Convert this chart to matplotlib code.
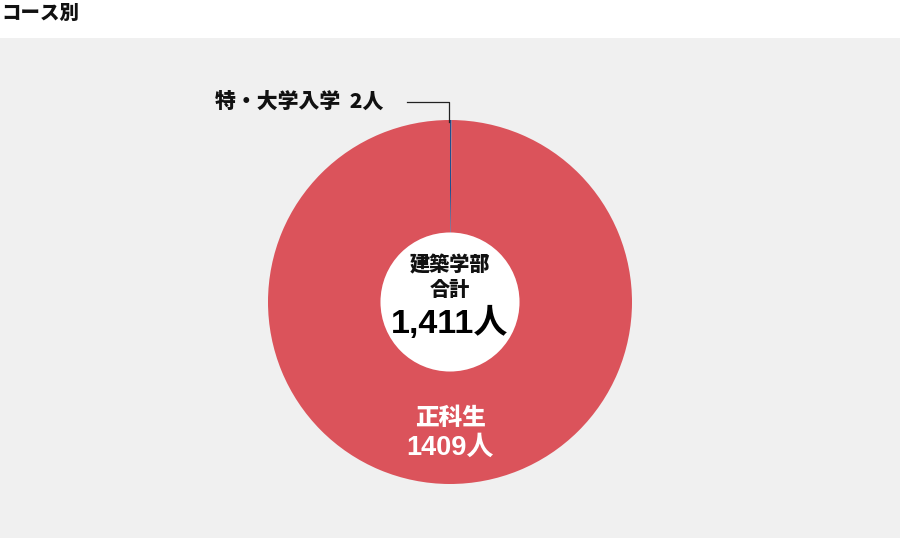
import numpy as np
import matplotlib.pyplot as plt
from matplotlib.patches import Rectangle, Circle

# data
labels = ["特・大学入学", "正科生"]
counts = [2, 1409]
colors = ["#1f4f8f", "#db535b"]
title = "コース別"
center_title = ["建築学部", "合計"]
total = sum(counts)

plt.rcParams['font.family'] = ['Noto Sans CJK JP', 'DejaVu Sans']
num_font = ['Liberation Sans', 'Noto Sans CJK JP']

fig = plt.figure(figsize=(9, 5.38), dpi=100)
W, H = 900, 538

# gray panel below the title
fig.patches.append(Rectangle((0, 0), 1, (H - 38) / H, transform=fig.transFigure,
                             facecolor="#f0f0f0", edgecolor="none", zorder=-5))

fig.text(1 / W, 1 - 13 / H, title, fontsize=14, fontweight="black",
         ha="left", va="center", color="#111111")

# pie axes: center (450, 302) px, radius 182 px
cx, cy, r = 450, 302, 182
ax = fig.add_axes([(cx - r) / W, (H - cy - r) / H, 2 * r / W, 2 * r / H])
ax.set_zorder(2)
ax.patch.set_visible(False)

wedges, _ = ax.pie(counts, colors=colors, startangle=90, counterclock=False,
                   radius=1, wedgeprops=dict(edgecolor="none"))
ax.set_xlim(-1, 1)
ax.set_ylim(-1, 1)
ax.set_aspect("equal")
ax.axis("off")
ax.add_patch(Circle((0, 0), 0.382, facecolor="white", edgecolor="none", zorder=3))

# leader line for the small slice
w = wedges[0]
mid = np.deg2rad((w.theta1 + w.theta2) / 2)
lx = np.cos(mid) - 0.012
ly = 1.099
ax.plot([lx, lx, -0.238], [0.99, ly, ly], color="#222222", lw=0.9,
        clip_on=False, zorder=4)
ax.text(-0.368, ly, f"{labels[0]}  {counts[0]}人", ha="right", va="center",
        fontsize=15, fontweight="black", color="#111111", family=num_font[::-1])

# center text
ax.text(0, 0.20, center_title[0], ha="center", va="center", fontsize=14.5,
        fontweight="black", color="#111111", zorder=5)
ax.text(0, 0.066, center_title[1], ha="center", va="center", fontsize=14.5,
        fontweight="black", color="#111111", zorder=5)
ax.text(0, -0.12, f"{total:,}人", ha="center", va="center", fontsize=24.5,
        fontweight="bold", color="#000000", zorder=5, family=num_font)

# big slice label
ax.text(0, -0.635, labels[1], ha="center", va="center",
        fontsize=17, fontweight="black", color="white")
ax.text(0, -0.80, f"{counts[1]}人", ha="center", va="center",
        fontsize=19.5, fontweight="bold", color="white", family=num_font)

fig.savefig("out.png", dpi=100)
